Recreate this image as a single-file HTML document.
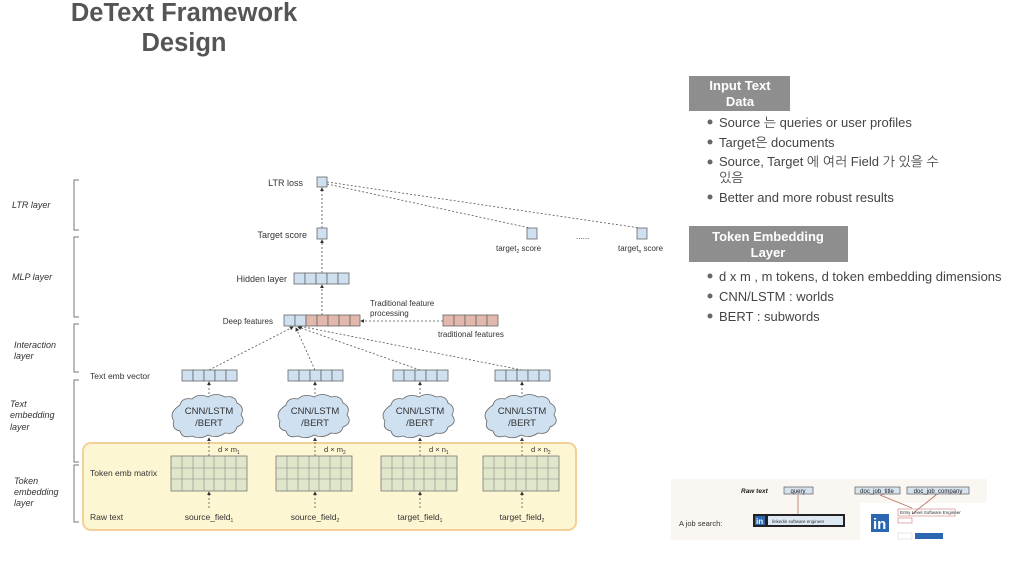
<!DOCTYPE html>
<html><head><meta charset="utf-8"><style>
body{margin:0;background:#fff;width:1024px;height:562px;overflow:hidden;font-family:"Liberation Sans","NanumGothic",sans-serif}
svg{position:absolute;left:0;top:0}
</style></head><body>
<svg width="1024" height="562" viewBox="0 0 1024 562" font-family="Liberation Sans, NanumGothic, sans-serif">
<defs>
<marker id="ar" markerWidth="5" markerHeight="5" refX="4" refY="2.5" orient="auto"><path d="M0,0 L5,2.5 L0,5z" fill="#333"/></marker>
</defs>
<!-- title -->
<text x="184" y="21" font-size="25.5" font-weight="bold" fill="#555" text-anchor="middle">DeText Framework</text>
<text x="184" y="51" font-size="25.5" font-weight="bold" fill="#555" text-anchor="middle">Design</text>

<!-- yellow box -->
<rect x="83" y="443" width="493" height="87" rx="8" fill="#fdf6d3" stroke="#f5cf98" stroke-width="2"/>

<!-- brackets -->
<g fill="none" stroke="#777" stroke-width="1">
<path d="M79,180 H74 V230 H79"/><path d="M79,237 H74 V317 H79"/><path d="M79,324 H74 V372 H79"/><path d="M79,380 H74 V462 H79"/><path d="M79,465 H74 V522 H79"/>
</g>
<g font-size="9" font-style="italic" fill="#333">
<text x="12" y="208">LTR layer</text>
<text x="12" y="280">MLP layer</text>
<text x="14" y="348">Interaction</text><text x="14" y="359">layer</text>
<text x="10" y="407">Text</text><text x="10" y="418">embedding</text><text x="10" y="430">layer</text>
<text x="14" y="484">Token</text><text x="14" y="495">embedding</text><text x="14" y="506">layer</text>
</g>

<!-- dashed connectors -->
<g stroke="#555" stroke-width="0.8" stroke-dasharray="2,2" fill="none" marker-end="url(#ar)">
<line x1="322" y1="228" x2="322" y2="188"/>
<line x1="322" y1="273" x2="322" y2="240"/>
<line x1="322" y1="315" x2="322" y2="285"/>
<line x1="443" y1="321" x2="361" y2="321"/>
<line x1="209" y1="370" x2="293" y2="327"/>
<line x1="315" y1="370" x2="296" y2="328"/>
<line x1="420" y1="370" x2="298" y2="327"/>
<line x1="522" y1="370" x2="299" y2="326"/>
<line x1="209" y1="398" x2="209" y2="382"/>
<line x1="315" y1="398" x2="315" y2="382"/>
<line x1="420" y1="398" x2="420" y2="382"/>
<line x1="522" y1="398" x2="522" y2="382"/>
<line x1="209" y1="456" x2="209" y2="438"/>
<line x1="315" y1="456" x2="315" y2="438"/>
<line x1="420" y1="456" x2="420" y2="438"/>
<line x1="522" y1="456" x2="522" y2="438"/>
<line x1="209" y1="508" x2="209" y2="492"/>
<line x1="315" y1="508" x2="315" y2="492"/>
<line x1="420" y1="508" x2="420" y2="492"/>
<line x1="522" y1="508" x2="522" y2="492"/>
</g>
<g stroke="#555" stroke-width="0.8" stroke-dasharray="2,2"><line x1="327" y1="184" x2="530" y2="228"/><line x1="327" y1="182" x2="640" y2="228"/></g>

<!-- single boxes -->
<g fill="#cfe0f1" stroke="#666" stroke-width="0.8">
<rect x="317" y="177" width="10" height="10"/>
<rect x="317" y="228" width="10" height="11"/>
<rect x="527" y="228" width="10" height="11"/>
<rect x="637" y="228" width="10" height="11"/>
</g>
<g font-size="9" fill="#333">
<text x="303" y="186" text-anchor="end">LTR loss</text>
<text x="307" y="238" text-anchor="end">Target score</text>
<text x="496" y="251" font-size="8">target<tspan font-size="5" dy="2">2</tspan><tspan dy="-2"> score</tspan></text>
<text x="618" y="251" font-size="8">target<tspan font-size="5" dy="2">n</tspan><tspan dy="-2"> score</tspan></text>
<text x="576" y="239" font-size="8">......</text>
<text x="287" y="282" text-anchor="end">Hidden layer</text>
<text x="273" y="324" text-anchor="end" font-size="8">Deep features</text>
<text x="370" y="306" font-size="8">Traditional feature</text>
<text x="370" y="316" font-size="8">processing</text>
<text x="438" y="337" font-size="8">traditional features</text>
<text x="90" y="379" font-size="8.5">Text emb vector</text>
<text x="90" y="476" font-size="8.5">Token emb matrix</text>
<text x="90" y="520" font-size="8.5">Raw text</text>
</g>

<!-- hidden layer -->
<g fill="#cfe0f1" stroke="#666" stroke-width="0.8">
<rect x="294" y="273" width="11" height="11"/><rect x="305" y="273" width="11" height="11"/><rect x="316" y="273" width="11" height="11"/><rect x="327" y="273" width="11" height="11"/><rect x="338" y="273" width="11" height="11"/>
<rect x="284" y="315" width="11" height="11"/><rect x="295" y="315" width="11" height="11"/>
</g>
<g fill="#e2b8ad" stroke="#666" stroke-width="0.8">
<rect x="306" y="315" width="11" height="11"/><rect x="317" y="315" width="11" height="11"/><rect x="328" y="315" width="11" height="11"/><rect x="339" y="315" width="11" height="11"/><rect x="350" y="315" width="10" height="11"/>
<rect x="443" y="315" width="11" height="11"/><rect x="454" y="315" width="11" height="11"/><rect x="465" y="315" width="11" height="11"/><rect x="476" y="315" width="11" height="11"/><rect x="487" y="315" width="11" height="11"/>
</g>

<!-- text emb vectors -->
<g fill="#cfe0f1" stroke="#666" stroke-width="0.8">
<g transform="translate(182,370)"><rect x="0" width="11" height="11"/><rect x="11" width="11" height="11"/><rect x="22" width="11" height="11"/><rect x="33" width="11" height="11"/><rect x="44" width="11" height="11"/></g>
<g transform="translate(288,370)"><rect x="0" width="11" height="11"/><rect x="11" width="11" height="11"/><rect x="22" width="11" height="11"/><rect x="33" width="11" height="11"/><rect x="44" width="11" height="11"/></g>
<g transform="translate(393,370)"><rect x="0" width="11" height="11"/><rect x="11" width="11" height="11"/><rect x="22" width="11" height="11"/><rect x="33" width="11" height="11"/><rect x="44" width="11" height="11"/></g>
<g transform="translate(495,370)"><rect x="0" width="11" height="11"/><rect x="11" width="11" height="11"/><rect x="22" width="11" height="11"/><rect x="33" width="11" height="11"/><rect x="44" width="11" height="11"/></g>
</g>

<!-- clouds -->
<g fill="#cfe0f1" stroke="#666" stroke-width="0.8">
<path id="cl" d="M180,405 q2,-8 12,-6 q6,-6 16,-2 q8,-5 17,0 q10,-2 12,6 q8,4 4,12 q6,8 -4,12 q-2,8 -12,6 q-8,6 -17,2 q-8,5 -16,1 q-10,3 -12,-5 q-9,-2 -6,-10 q-6,-8 6,-16z"/>
<use href="#cl" x="106"/><use href="#cl" x="211"/><use href="#cl" x="313"/>
</g>
<g font-size="9.5" fill="#333" text-anchor="middle">
<text x="209" y="414">CNN/LSTM</text><text x="209" y="426">/BERT</text>
<text x="315" y="414">CNN/LSTM</text><text x="315" y="426">/BERT</text>
<text x="420" y="414">CNN/LSTM</text><text x="420" y="426">/BERT</text>
<text x="522" y="414">CNN/LSTM</text><text x="522" y="426">/BERT</text>
</g>

<!-- matrices -->
<g id="mx" transform="translate(171,456)">
<rect width="76" height="35" fill="#dfe6c9" stroke="#777" stroke-width="0.8"/>
<g stroke="#888" stroke-width="0.6"><line x1="11" y1="0" x2="11" y2="35"/><line x1="22" y1="0" x2="22" y2="35"/><line x1="33" y1="0" x2="33" y2="35"/><line x1="43" y1="0" x2="43" y2="35"/><line x1="54" y1="0" x2="54" y2="35"/><line x1="65" y1="0" x2="65" y2="35"/><line x1="0" y1="12" x2="76" y2="12"/><line x1="0" y1="23" x2="76" y2="23"/></g>
</g>
<use href="#mx" x="105"/><use href="#mx" x="210"/><use href="#mx" x="312"/>
<g font-size="7.5" fill="#333">
<text x="218" y="452">d × m<tspan font-size="5" dy="2">1</tspan></text>
<text x="324" y="452">d × m<tspan font-size="5" dy="2">2</tspan></text>
<text x="429" y="452">d × n<tspan font-size="5" dy="2">1</tspan></text>
<text x="531" y="452">d × n<tspan font-size="5" dy="2">2</tspan></text>
</g>
<g font-size="8.5" fill="#333" text-anchor="middle">
<text x="209" y="520">source_field<tspan font-size="5" dy="2">1</tspan></text>
<text x="315" y="520">source_field<tspan font-size="5" dy="2">2</tspan></text>
<text x="420" y="520">target_field<tspan font-size="5" dy="2">1</tspan></text>
<text x="522" y="520">target_field<tspan font-size="5" dy="2">2</tspan></text>
</g>

<!-- right text -->
<rect x="689" y="76" width="101" height="35" fill="#8e8e8e"/>
<text x="740" y="90" font-size="13" font-weight="bold" fill="#fff" text-anchor="middle">Input Text</text>
<text x="740" y="106" font-size="13" font-weight="bold" fill="#fff" text-anchor="middle">Data</text>
<g font-size="13" fill="#444">
<circle cx="710" cy="122" r="2.5" fill="#666"/><text x="719" y="127">Source 는 queries or user profiles</text>
<circle cx="710" cy="142" r="2.5" fill="#666"/><text x="719" y="147">Target은 documents</text>
<circle cx="710" cy="162" r="2.5" fill="#666"/><text x="719" y="166">Source, Target 에 여러 Field 가 있을 수</text>
<text x="719" y="182">있음</text>
<circle cx="710" cy="197" r="2.5" fill="#666"/><text x="719" y="202">Better and more robust results</text>
</g>
<rect x="689" y="226" width="159" height="36" fill="#8e8e8e"/>
<text x="768" y="241" font-size="13" font-weight="bold" fill="#fff" text-anchor="middle">Token Embedding</text>
<text x="768" y="257" font-size="13" font-weight="bold" fill="#fff" text-anchor="middle">Layer</text>
<g font-size="13" fill="#444">
<circle cx="710" cy="276" r="2.5" fill="#666"/><text x="719" y="281">d x m , m tokens, d token embedding dimensions</text>
<circle cx="710" cy="296" r="2.5" fill="#666"/><text x="719" y="301">CNN/LSTM : worlds</text>
<circle cx="710" cy="316" r="2.5" fill="#666"/><text x="719" y="321">BERT : subwords</text>
</g>

<!-- bottom right screenshot -->
<rect x="671" y="479" width="316" height="61" fill="#faf7f2"/>
<rect x="860" y="503" width="127" height="37" fill="#fff"/>
<text x="741" y="493" font-size="6.5" font-weight="bold" font-style="italic" fill="#222">Raw text</text>
<g fill="#d6e2ee" stroke="#444" stroke-width="0.6">
<rect x="784" y="487" width="29" height="7"/><rect x="855" y="487" width="45" height="7"/><rect x="907" y="487" width="62" height="7"/>
</g>
<g font-size="6" fill="#222" text-anchor="middle"><text x="798" y="493">query</text><text x="877" y="493">doc_job_title</text><text x="938" y="493">doc_job_company</text></g>
<g stroke="#b8705f" stroke-width="0.8"><line x1="798" y1="514" x2="798" y2="495"/><line x1="912" y1="508" x2="880" y2="495"/><line x1="912" y1="514" x2="936" y2="495"/></g>
<text x="679" y="526" font-size="7.5" fill="#333">A job search:</text>
<rect x="753" y="514" width="92" height="13" fill="#222"/>
<rect x="755" y="516" width="10" height="9" fill="#2a67b0"/><text x="756" y="524" font-size="8" font-weight="bold" fill="#fff">in</text>
<rect x="768" y="516" width="75" height="9" fill="#dde8f3"/>
<text x="772" y="523" font-size="4.5" fill="#333">linkedin software engineer</text>
<rect x="871" y="514" width="18" height="18" fill="#2a67b0"/><text x="873" y="529" font-size="15" font-weight="bold" fill="#fff">in</text>
<rect x="898" y="509" width="57" height="7" fill="none" stroke="#c77" stroke-width="0.6"/>
<text x="900" y="514" font-size="4.5" fill="#333">Entry Level Software Engineer</text>
<rect x="898" y="518" width="14" height="5" fill="none" stroke="#c77" stroke-width="0.6"/>
<rect x="898" y="533" width="14" height="6" fill="none" stroke="#ccc" stroke-width="0.5"/>
<rect x="915" y="533" width="28" height="6" fill="#2a67b0"/>
</svg>
</body></html>
